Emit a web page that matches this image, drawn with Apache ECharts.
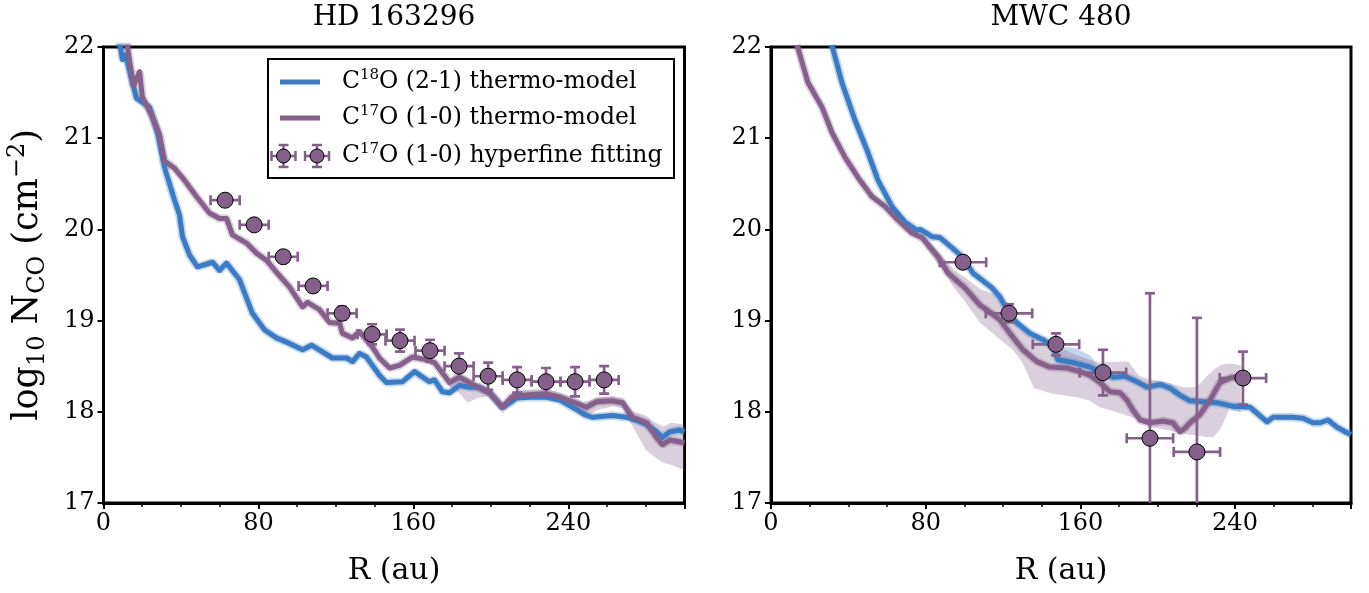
<!DOCTYPE html>
<html><head><meta charset="utf-8">
<script src="https://cdn.jsdelivr.net/npm/echarts@6/dist/echarts.min.js"></script>
<style>html,body{margin:0;padding:0;background:#fff}#c{width:1369px;height:593px}</style>
</head><body><div id="c"></div>
<script>
// ---------------- DATA ----------------
const xTicks = [0, 80, 160, 240];
const yTicks = [17, 18, 19, 20, 21, 22];
const panelTitles = ['HD 163296', 'MWC 480'];

// HD 163296 : C18O (2-1) thermo-model
const hdC18R = [7, 8.8, 9.8, 11.4, 17.0, 23.8, 27.9, 31.5, 36.7, 39.2, 40.8, 44.4, 48.5, 56.3, 59.9, 63.5, 70.2, 76.9, 83.1, 89.3, 96.0, 102.8, 107.4, 118.2, 125.5, 128.6, 132.2, 135.8, 142.5, 146.1, 154.4, 160.6, 168.3, 170.9, 175.0, 178.7, 183.8, 189.0, 194.1, 199.3, 206.0, 210.7, 213.2, 220.0, 228.7, 235.5, 242.2, 249.4, 252.5, 262.8, 270.0, 275.2, 280.4, 285.5, 288.6, 292.3, 297.4, 300];
const hdC18V = [22.2, 21.99, 21.86, 21.91, 21.44, 21.34, 21.06, 20.68, 20.32, 20.16, 19.92, 19.72, 19.59, 19.64, 19.55, 19.63, 19.45, 19.08, 18.90, 18.81, 18.75, 18.68, 18.73, 18.59, 18.59, 18.55, 18.64, 18.60, 18.40, 18.32, 18.33, 18.44, 18.33, 18.35, 18.22, 18.21, 18.29, 18.27, 18.27, 18.21, 18.05, 18.11, 18.15, 18.16, 18.16, 18.13, 18.05, 17.96, 17.94, 17.96, 17.94, 17.91, 17.86, 17.78, 17.72, 17.78, 17.80, 17.78];

// HD 163296 : C17O (1-0) thermo-model
const hdC17R = [11, 12.4, 15.5, 18.6, 20.1, 25.3, 28.9, 31.5, 36.7, 41.8, 48.0, 54.7, 59.9, 63.5, 66.6, 73.8, 79.0, 84.2, 89.3, 96.0, 102.8, 105.3, 111.5, 116.7, 121.9, 123.4, 128.6, 132.2, 138.9, 142.5, 147.7, 152.8, 159.5, 166.8, 170.9, 178.7, 183.8, 189.0, 194.1, 199.3, 206.0, 210.7, 214.8, 228.7, 235.5, 242.2, 249.4, 254.6, 262.8, 268.0, 273.1, 280.4, 285.5, 288.6, 292.3, 300];
const hdC17V = [22.2, 22.0, 21.57, 21.73, 21.45, 21.23, 21.04, 20.75, 20.67, 20.54, 20.36, 20.18, 20.12, 20.12, 19.94, 19.85, 19.74, 19.66, 19.53, 19.37, 19.15, 19.20, 19.12, 18.98, 18.97, 18.86, 18.81, 18.88, 18.71, 18.59, 18.48, 18.51, 18.60, 18.57, 18.54, 18.32, 18.38, 18.32, 18.26, 18.21, 18.05, 18.16, 18.18, 18.20, 18.16, 18.11, 18.05, 18.11, 18.12, 18.10, 17.94, 17.88, 17.72, 17.64, 17.69, 17.66];
// wider part of the C17O uncertainty band
const hdC17BandR  = [178, 183, 188, 193, 199, 206, 211, 215, 229, 236, 242, 248, 255, 263, 268, 273, 280, 285, 289, 293, 300];
const hdC17BandLo = [18.28, 18.22, 18.10, 18.15, 18.17, 17.98, 18.10, 18.13, 18.15, 18.10, 18.03, 17.93, 18.02, 18.06, 18.04, 17.85, 17.58, 17.50, 17.44, 17.42, 17.36];
const hdC17BandHi = [18.36, 18.42, 18.38, 18.31, 18.25, 18.09, 18.21, 18.24, 18.25, 18.21, 18.16, 18.10, 18.16, 18.17, 18.15, 18.01, 17.96, 17.88, 17.84, 17.88, 17.86];

// HD 163296 : C17O hyperfine fitting
const hdPtR = [62.8, 77.8, 92.8, 108.2, 123.2, 138.7, 153.1, 168.6, 183.6, 198.6, 213.6, 228.5, 243.5, 258.5];
const hdPtV = [20.32, 20.05, 19.70, 19.38, 19.08, 18.85, 18.78, 18.67, 18.50, 18.39, 18.35, 18.33, 18.33, 18.35];
const hdPtXErr = [7.5, 7.5, 7.5, 7.5, 7.5, 7.5, 7.5, 7.5, 7.5, 7.5, 7.5, 7.5, 7.5, 7.5];
const hdPtYErr = [0.03, 0.04, 0.05, 0.06, 0.07, 0.11, 0.12, 0.12, 0.14, 0.15, 0.14, 0.15, 0.16, 0.15];

// MWC 480 : C18O (2-1) thermo-model
const mwcC18R = [31.5, 36.7, 43.4, 50.2, 55.3, 62.6, 69.3, 75.5, 77.1, 83.3, 87.4, 93.6, 98.8, 104.5, 114.3, 118.4, 125.2, 134.0, 140.7, 145.9, 148.4, 156.2, 165.0, 170.2, 176.9, 183.1, 189.3, 194.5, 201.2, 206.4, 211.6, 216.7, 223.4, 230.7, 239.0, 247.8, 256.6, 259.7, 270.0, 275.2, 280.3, 284.0, 288.1, 292.8, 298.0, 300];
const mwcC18V = [22.02, 21.61, 21.20, 20.84, 20.54, 20.25, 20.08, 19.99, 20.00, 19.92, 19.91, 19.80, 19.70, 19.52, 19.36, 19.26, 19.01, 18.86, 18.79, 18.71, 18.57, 18.54, 18.49, 18.43, 18.38, 18.39, 18.33, 18.27, 18.30, 18.26, 18.18, 18.12, 18.11, 18.10, 18.06, 18.05, 17.89, 17.94, 17.94, 17.93, 17.88, 17.88, 17.91, 17.83, 17.77, 17.75];
const mwcC18BandR  = [141, 146, 149, 157, 165, 170];
const mwcC18BandLo = [18.76, 18.68, 18.55, 18.52, 18.47, 18.42];
const mwcC18BandHi = [18.83, 18.76, 18.72, 18.70, 18.62, 18.48];

// MWC 480 : C17O (1-0) thermo-model
const mwcC17R = [13.5, 19.1, 26.4, 31.6, 38.3, 45.0, 52.2, 59.0, 65.7, 72.9, 78.1, 86.4, 91.6, 100.3, 108.1, 113.3, 118.4, 123.6, 130.3, 137.6, 144.3, 153.1, 159.8, 165.0, 170.2, 175.3, 180.5, 184.1, 187.2, 190.9, 196.0, 202.8, 207.9, 211.6, 214.1, 216.7, 221.9, 227.1, 232.2, 237.4, 242.6];
const mwcC17V = [22.02, 21.61, 21.34, 21.06, 20.79, 20.57, 20.36, 20.25, 20.10, 19.96, 19.91, 19.70, 19.52, 19.36, 19.17, 19.09, 19.01, 18.86, 18.68, 18.55, 18.49, 18.48, 18.44, 18.40, 18.32, 18.22, 18.21, 18.13, 18.02, 17.91, 17.88, 17.90, 17.88, 17.78, 17.82, 17.88, 17.97, 18.13, 18.32, 18.37, 18.39];
const mwcC17BandR  = [80, 88, 95, 100, 108, 118, 125, 130, 136, 145, 152, 158, 165, 170, 180, 185, 190, 195, 205, 213, 220, 226, 229, 233, 237, 243];
const mwcC17BandLo = [19.80, 19.58, 19.35, 19.22, 18.98, 18.80, 18.68, 18.54, 18.26, 18.20, 18.18, 18.16, 18.12, 18.05, 17.99, 17.95, 17.92, 17.84, 17.80, 17.76, 17.74, 17.72, 17.72, 17.83, 18.03, 17.99];
const mwcC17BandHi = [19.92, 19.72, 19.55, 19.48, 19.35, 19.27, 19.10, 18.95, 18.82, 18.72, 18.68, 18.62, 18.57, 18.54, 18.55, 18.55, 18.40, 18.36, 18.32, 18.27, 18.27, 18.40, 18.46, 18.52, 18.53, 18.51];

// MWC 480 : C17O hyperfine fitting
const mwcPtR = [99.3, 123.1, 147.4, 171.7, 196.0, 220.3, 244.1];
const mwcPtV = [19.64, 19.08, 18.74, 18.43, 17.71, 17.56, 18.37];
const mwcPtXErr = [12, 12, 12, 12, 12, 12, 12];
const mwcPtYErr = [0.05, 0.10, 0.12, 0.25, 1.59, 1.47, 0.29];

// ---------------- STYLE ----------------
const FONT = 'DejaVu Serif';
const BLUE = '#3a7bc3';
const PURPLE = '#85608a';
const BLUE_BAND = 'rgba(58,123,195,0.30)';
const PURPLE_BAND = 'rgba(133,96,138,0.30)';

function pairs(r, v) { return r.map((x, i) => [x, v[i]]); }

function clipRect(params) {
  const c = params.coordSys;
  return { type: 'rect', shape: { x: c.x, y: c.y, width: c.width, height: c.height } };
}

function bandSeries(idx, r, lo, hi, color) {
  return {
    type: 'custom', xAxisIndex: idx, yAxisIndex: idx, silent: true, z: 1,
    data: [[r[0], lo[0]]], encode: { x: 0, y: 1 },
    renderItem: function (params, api) {
      const pts = [];
      for (let i = 0; i < r.length; i++) pts.push(api.coord([r[i], hi[i]]));
      for (let i = r.length - 1; i >= 0; i--) pts.push(api.coord([r[i], lo[i]]));
      return { type: 'group', clipPath: clipRect(params),
        children: [{ type: 'polygon', shape: { points: pts }, style: { fill: color } }] };
    }
  };
}

function lineSeries(idx, r, v, color, halo, name) {
  return [
    { type: 'line', xAxisIndex: idx, yAxisIndex: idx, data: pairs(r, v), showSymbol: false, silent: true,
      z: 2, lineStyle: { color: halo, width: 8.5 }, clip: true },
    { type: 'line', name: name, xAxisIndex: idx, yAxisIndex: idx, data: pairs(r, v), showSymbol: false,
      z: 3, lineStyle: { color: color, width: 5, join: 'round' }, itemStyle: { color: color }, clip: true }
  ];
}

function errSeries(idx, r, v, xe, ye) {
  return {
    type: 'custom', xAxisIndex: idx, yAxisIndex: idx, silent: true, z: 4,
    data: r.map((x, i) => [x, v[i], xe[i], ye[i]]), encode: { x: 0, y: 1 },
    renderItem: function (params, api) {
      const x = api.value(0), y = api.value(1), ex = api.value(2), ey = api.value(3);
      const L = api.coord([x - ex, y]), R = api.coord([x + ex, y]);
      const T = api.coord([x, y + ey]), B = api.coord([x, y - ey]);
      const cap = 5, st = { stroke: PURPLE, lineWidth: 2.7 };
      return { type: 'group', clipPath: clipRect(params), children: [
        { type: 'line', shape: { x1: L[0], y1: L[1], x2: R[0], y2: R[1] }, style: st },
        { type: 'line', shape: { x1: T[0], y1: T[1], x2: B[0], y2: B[1] }, style: st },
        { type: 'line', shape: { x1: L[0], y1: L[1] - cap, x2: L[0], y2: L[1] + cap }, style: st },
        { type: 'line', shape: { x1: R[0], y1: R[1] - cap, x2: R[0], y2: R[1] + cap }, style: st },
        { type: 'line', shape: { x1: T[0] - cap, y1: T[1], x2: T[0] + cap, y2: T[1] }, style: st },
        { type: 'line', shape: { x1: B[0] - cap, y1: B[1], x2: B[0] + cap, y2: B[1] }, style: st }
      ] };
    }
  };
}

function ptSeries(idx, r, v) {
  return { type: 'scatter', xAxisIndex: idx, yAxisIndex: idx, data: pairs(r, v), symbol: 'circle',
    symbolSize: 16, z: 5, itemStyle: { color: PURPLE, borderColor: '#000', borderWidth: 1, opacity: 1 } };
}

function xAx(idx) {
  return { type: 'value', gridIndex: idx, min: xTicks[0], max: 300, interval: xTicks[1] - xTicks[0],
    axisLine: { show: true, onZero: false, lineStyle: { color: '#000', width: 3 } },
    axisTick: { show: true, length: 6, lineStyle: { color: '#000', width: 2 } },
    minorTick: { show: true, splitNumber: 4, length: 4, lineStyle: { color: '#000', width: 1.5 } },
    splitLine: { show: false }, minorSplitLine: { show: false },
    axisLabel: { fontFamily: FONT, fontSize: 24, color: '#000', margin: 9, showMaxLabel: false,
      formatter: v => (xTicks.indexOf(v) >= 0 ? String(v) : '') },
    name: 'R (au)', nameLocation: 'middle', nameGap: 53,
    nameTextStyle: { fontFamily: FONT, fontSize: 30, color: '#000' } };
}
function yAx(idx) {
  return { type: 'value', gridIndex: idx, min: yTicks[0], max: yTicks[yTicks.length - 1], interval: 1,
    axisLine: { show: true, onZero: false, lineStyle: { color: '#000', width: 3 } },
    axisTick: { show: true, length: 6, lineStyle: { color: '#000', width: 2 } },
    splitLine: { show: false },
    axisLabel: { fontFamily: FONT, fontSize: 24, color: '#000', margin: 9 } };
}

const supRich = { fontFamily: FONT, fontSize: 15, fill: '#000', verticalAlign: 'top', lineHeight: 14 };
const legendText = (txt, y) => ({ type: 'text', x: 342, y: y, z: 101,
  style: { text: txt, fontFamily: FONT, fontSize: 23.5, fill: '#000', verticalAlign: 'middle', lineHeight: 28,
    rich: { sup: supRich } } });

const chart = echarts.init(document.getElementById('c'), null, { renderer: 'canvas' });
chart.setOption({
  animation: false,
  backgroundColor: '#fff',
  grid: [
    { left: 103.5, top: 47, width: 581, height: 456, show: true, borderColor: '#000', borderWidth: 3, containLabel: false, outerBoundsMode: 'none' },
    { left: 771, top: 47, width: 580, height: 456, show: true, borderColor: '#000', borderWidth: 3, containLabel: false, outerBoundsMode: 'none' }
  ],
  xAxis: [xAx(0), xAx(1)],
  yAxis: [yAx(0), yAx(1)],
  series: [
    bandSeries(0, hdC17BandR, hdC17BandLo, hdC17BandHi, PURPLE_BAND),
    ...lineSeries(0, hdC18R, hdC18V, BLUE, BLUE_BAND, 'C18O (2-1) thermo-model'),
    ...lineSeries(0, hdC17R, hdC17V, PURPLE, PURPLE_BAND, 'C17O (1-0) thermo-model'),
    errSeries(0, hdPtR, hdPtV, hdPtXErr, hdPtYErr),
    ptSeries(0, hdPtR, hdPtV),
    bandSeries(1, mwcC18BandR, mwcC18BandLo, mwcC18BandHi, BLUE_BAND),
    bandSeries(1, mwcC17BandR, mwcC17BandLo, mwcC17BandHi, PURPLE_BAND),
    ...lineSeries(1, mwcC18R, mwcC18V, BLUE, BLUE_BAND, 'C18O (2-1) thermo-model'),
    ...lineSeries(1, mwcC17R, mwcC17V, PURPLE, PURPLE_BAND, 'C17O (1-0) thermo-model'),
    errSeries(1, mwcPtR, mwcPtV, mwcPtXErr, mwcPtYErr),
    ptSeries(1, mwcPtR, mwcPtV)
  ],
  graphic: [
    { type: 'text', x: 394, y: 18, style: { text: panelTitles[0], fontFamily: FONT, fontSize: 28, fill: '#000', align: 'center', verticalAlign: 'middle' } },
    { type: 'text', x: 1061, y: 18, style: { text: panelTitles[1], fontFamily: FONT, fontSize: 28, fill: '#000', align: 'center', verticalAlign: 'middle' } },
    { type: 'text', x: 28, y: 275, rotation: Math.PI / 2,
      style: { text: 'log{sub|10} N{sub|CO} (cm{sup|−2})', fontFamily: FONT, fontSize: 35, fill: '#000',
        align: 'center', verticalAlign: 'middle', lineHeight: 44,
        rich: { sub: { fontFamily: FONT, fontSize: 24, fill: '#000', verticalAlign: 'bottom', lineHeight: 22 },
                sup: { fontFamily: FONT, fontSize: 24, fill: '#000', verticalAlign: 'top', lineHeight: 22 } } } },
    // legend
    { type: 'rect', z: 100, shape: { x: 268, y: 59, width: 406, height: 119 }, style: { fill: '#fff', stroke: '#000', lineWidth: 2 } },
    { type: 'line', z: 101, shape: { x1: 280, y1: 82, x2: 320, y2: 82 }, style: { stroke: BLUE, lineWidth: 5 } },
    { type: 'line', z: 101, shape: { x1: 280, y1: 118, x2: 320, y2: 118 }, style: { stroke: PURPLE, lineWidth: 5 } },
    legendText('C{sup|18}O (2-1) thermo-model', 82),
    legendText('C{sup|17}O (1-0) thermo-model', 118),
    legendText('C{sup|17}O (1-0) hyperfine fitting', 156),
    { type: 'group', z: 101, children: [271.5, 305].map(x0 => ({ type: 'group', children: [
      { type: 'line', z: 101, shape: { x1: x0, y1: 156, x2: x0 + 24, y2: 156 }, style: { stroke: PURPLE, lineWidth: 2.5 } },
      { type: 'line', z: 101, shape: { x1: x0 + 12, y1: 145, x2: x0 + 12, y2: 167 }, style: { stroke: PURPLE, lineWidth: 2.5 } },
      { type: 'line', z: 101, shape: { x1: x0, y1: 151, x2: x0, y2: 161 }, style: { stroke: PURPLE, lineWidth: 2.5 } },
      { type: 'line', z: 101, shape: { x1: x0 + 24, y1: 151, x2: x0 + 24, y2: 161 }, style: { stroke: PURPLE, lineWidth: 2.5 } },
      { type: 'line', z: 101, shape: { x1: x0 + 7, y1: 145, x2: x0 + 17, y2: 145 }, style: { stroke: PURPLE, lineWidth: 2.5 } },
      { type: 'line', z: 101, shape: { x1: x0 + 7, y1: 167, x2: x0 + 17, y2: 167 }, style: { stroke: PURPLE, lineWidth: 2.5 } },
      { type: 'circle', z: 102, shape: { cx: x0 + 12, cy: 156, r: 7 }, style: { fill: PURPLE, stroke: '#000', lineWidth: 1 } }
    ] })) }
  ]
});
</script>
</body></html>
